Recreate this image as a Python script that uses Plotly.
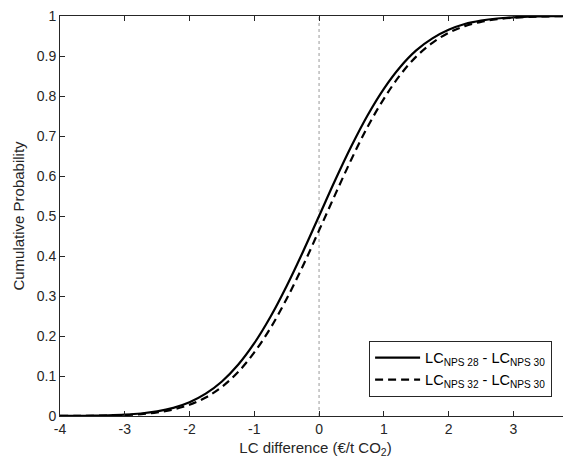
import plotly.graph_objects as go

x_vals = [-4, -3.75, -3.5, -3.25, -3, -2.75, -2.5, -2.25, -2, -1.75, -1.5, -1.25, -1,
          -0.75, -0.5, -0.25, 0, 0.25, 0.5, 0.75, 1, 1.25, 1.5, 1.75, 2, 2.25, 2.5,
          2.75, 3, 3.25, 3.5, 3.75, 3.9]

cdf_28_30 = [0.00014, 0.00033, 0.00073, 0.00156, 0.0032, 0.0062, 0.0115, 0.0204, 0.0345,
             0.0558, 0.0863, 0.128, 0.182, 0.248, 0.325, 0.410, 0.500, 0.590, 0.675,
             0.752, 0.818, 0.872, 0.914, 0.944, 0.9655, 0.980, 0.9885, 0.9938, 0.9968,
             0.9984, 0.9993, 0.9997, 0.9998]

cdf_32_30 = [0.0001, 0.00023, 0.00053, 0.00116, 0.0024, 0.0048, 0.0090, 0.0163, 0.0281,
             0.0463, 0.0729, 0.110, 0.159, 0.220, 0.293, 0.375, 0.464, 0.554, 0.642,
             0.723, 0.793, 0.852, 0.8985, 0.933, 0.958, 0.9747, 0.9854, 0.992, 0.9958,
             0.9979, 0.9990, 0.99955, 0.99972]

x_ticks = [-4, -3, -2, -1, 0, 1, 2, 3]
x_tick_labels = ["-4", "-3", "-2", "-1", "0", "1", "2", "3"]
y_ticks = [0, 0.1, 0.2, 0.3, 0.4, 0.5, 0.6, 0.7, 0.8, 0.9, 1]
y_tick_labels = ["0", "0.1", "0.2", "0.3", "0.4", "0.5", "0.6", "0.7", "0.8", "0.9", "1"]

fig = go.Figure()
fig.add_trace(go.Scatter(x=[0, 0], y=[0, 1], mode="lines",
                         line=dict(color="#999999", width=1, dash="dot"),
                         showlegend=False, hoverinfo="skip"))
fig.add_trace(go.Scatter(x=x_vals, y=cdf_28_30, mode="lines",
                         line=dict(color="black", width=2.2, shape="spline"),
                         name="LC<sub>NPS 28</sub> - LC<sub>NPS 30</sub>"))
fig.add_trace(go.Scatter(x=x_vals, y=cdf_32_30, mode="lines",
                         line=dict(color="black", width=2.2, dash="8px,5px", shape="spline"),
                         name="LC<sub>NPS 32</sub> - LC<sub>NPS 30</sub>"))

fig.update_layout(
    width=563, height=450,
    margin=dict(l=52, r=0, t=8, b=42, autoexpand=False),
    plot_bgcolor="white", paper_bgcolor="white",
    font=dict(family="Liberation Sans, Arial, sans-serif", size=14, color="#262626"),
    showlegend=True,
    legend=dict(x=0.963, y=0.048, xanchor="right", yanchor="bottom",
                bordercolor="#262626", borderwidth=1, bgcolor="white",
                font=dict(size=14.5, color="black"), tracegroupgap=0,
                itemwidth=45),
    xaxis=dict(range=[-4, 3.89], tickvals=x_ticks, ticktext=x_tick_labels, ticks="inside",
               ticklen=5, tickcolor="#262626", showline=True, linecolor="#262626", linewidth=1,
               mirror="ticks", showgrid=False, zeroline=False, automargin=False,
               ticklabeloverflow="allow",
               title=dict(text="LC difference (€/t CO<sub>2</sub>)", font=dict(size=15), standoff=12)),
    yaxis=dict(range=[0, 1], tickvals=y_ticks, ticktext=y_tick_labels, ticks="inside",
               ticklen=5, tickcolor="#262626", showline=True, linecolor="#262626",
               linewidth=1, mirror=False, showgrid=False, zeroline=False, automargin=False,
               ticklabeloverflow="allow",
               title=dict(text="Cumulative Probability", font=dict(size=15), standoff=8)),
)

fig.write_html("out.html")
